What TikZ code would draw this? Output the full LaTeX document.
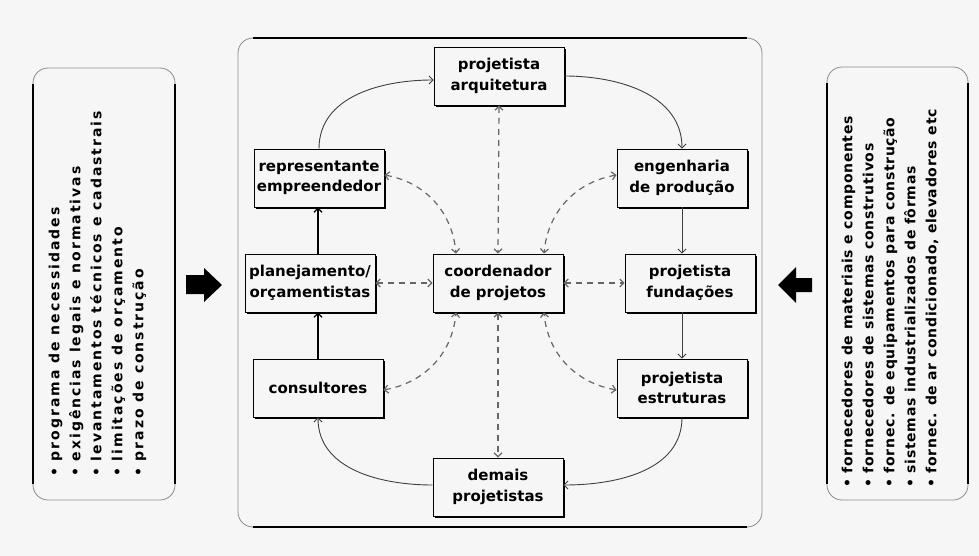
\documentclass[tikz,border=0pt]{standalone}
\usepackage{fontspec}
\setmainfont{DejaVu Sans}
\newfontfamily\sideL[LetterSpace=14]{DejaVu Sans}
\newfontfamily\sideR[LetterSpace=5]{DejaVu Sans}
\usetikzlibrary{arrows.meta,shadows,calc}
\definecolor{bg}{RGB}{246,246,246}
\begin{document}
\begin{tikzpicture}[x=1pt,y=1pt,
  bx/.style={draw, line width=0.8pt, fill=bg, minimum width=130pt, minimum height=58pt,
    inner sep=1pt, align=center, font=\bfseries\fontsize{15}{20.5}\selectfont,
    drop shadow={shadow xshift=1.6pt, shadow yshift=-1.6pt, opacity=1, fill=black}},
  tip/.tip={Straight Barb[length=4pt,width=8pt]},
  flow/.style={-tip, line width=0.9pt, draw=black!75},
  flowk/.style={-tip, line width=1.3pt, draw=black},
  link/.style={tip-tip, dash pattern=on 6pt off 5pt, line width=1.2pt, draw=black!60},
  frame/.style={draw=black!45, line width=0.8pt, rounded corners=15pt, fill=bg},
  edge/.style={line width=1.8pt, draw=black},
  sidetxt/.style={rotate=90, anchor=west, align=left, inner sep=0pt}
]
% page
\fill[bg] (0,0) rectangle (979,-556);
\useasboundingbox (0,0) rectangle (979,-556);

% input list (left)
\draw[frame] (33,-68) rectangle (175,-500);
\draw[edge] (33,-84) -- (33,-484);
\draw[edge] (175,-84) -- (175,-484);
\node[sidetxt, font=\sideL\bfseries\fontsize{14}{21}\selectfont] (needs) at (97.5,-477)
  {• programa de necessidades\\
   • exigências legais e normativas\\
   • levantamentos técnicos e cadastrais\\
   • limitações de orçamento\\
   • prazo de construção};

% supplier list (right)
\draw[frame] (827,-67) rectangle (968,-500);
\draw[edge] (827,-83) -- (827,-484);
\draw[edge] (968,-83) -- (968,-484);
\node[sidetxt, font=\sideR\bfseries\fontsize{14}{21}\selectfont] (suppliers) at (890,-488)
  {• fornecedores de materiais e componentes\\
   • fornecedores de sistemas construtivos\\
   • fornec. de equipamentos para construção\\
   • sistemas industrializados de fôrmas\\
   • fornec. de ar condicionado, elevadores etc};

% block arrows
\fill (186,-275) -- (204,-275) -- (204,-268) -- (222,-285) -- (204,-302) -- (204,-294) -- (186,-294) -- cycle;
\fill (812,-278) -- (796,-278) -- (796,-267) -- (778,-285) -- (796,-303) -- (796,-292) -- (812,-292) -- cycle;

% central panel
\draw[frame] (238,-38) rectangle (762,-527);
\draw[edge] (253,-38) -- (747,-38);
\draw[edge] (253,-527) -- (747,-527);

% agents
\node[bx] (arq)   at (499,-76)  {projetista\\arquitetura};
\node[bx] (rep)   at (319,-178) {representante\\empreendedor};
\node[bx] (eng)   at (682,-178) {engenharia\\de produção};
\node[bx] (plan)  at (310,-283) {planejamento/\\orçamentistas};
\node[bx] (coord) at (498,-283) {coordenador\\de projetos};
\node[bx] (fund)  at (690,-283) {projetista\\fundações};
\node[bx] (cons)  at (318,-388) {consultores};
\node[bx] (estr)  at (682,-388) {projetista\\estruturas};
\node[bx] (dem)   at (498,-487) {demais\\projetistas};

% design cycle
\draw[flow] (rep.north) to[out=90,in=180] ($(arq.west)+(0,-4)$);
\draw[flow] (arq.east) to[out=0,in=90] (eng.north);
\draw[flow] (eng.south) -- (eng.south |- fund.north);
\draw[flow] (estr.north |- fund.south) -- (estr.north);
\draw[flow] (estr.south) to[out=-90,in=0] ($(dem.east)+(0,2)$);
\draw[flow] ($(dem.west)+(0,2)$) to[out=180,in=-90] (cons.south);
\draw[flowk] (cons.north) -- (cons.north |- plan.south);
\draw[flowk] (cons.north |- plan.north) -- (cons.north |- rep.south);

% coordination links
\draw[link] (arq.south) -- (coord.north);
\draw[link] (coord.south) -- (dem.north);
\draw[link] (plan.east) -- (coord.west);
\draw[link] (coord.east) -- (fund.west);
\draw[link] ($(rep.east)+(0,3)$) to[out=-10,in=95] ($(coord.north)+(-42,0)$);
\draw[link] ($(eng.west)+(0,3)$) to[out=190,in=85] ($(coord.north)+(46,0)$);
\draw[link] ($(cons.east)+(0,-2)$) to[out=10,in=-95] ($(coord.south)+(-42,0)$);
\draw[link] ($(estr.west)+(0,-2)$) to[out=170,in=-85] ($(coord.south)+(46,0)$);
\end{tikzpicture}
\end{document}
